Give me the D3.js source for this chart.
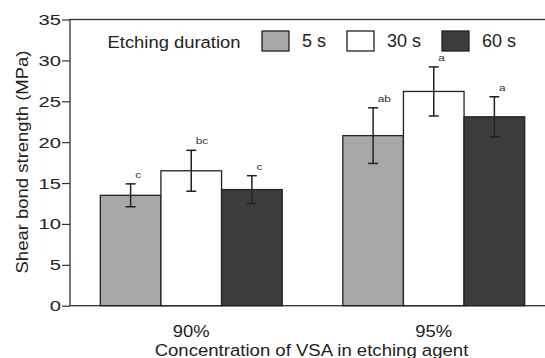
<!DOCTYPE html>
<html>
<head>
<meta charset="utf-8">
<script src="https://cdn.jsdelivr.net/npm/d3@7"></script>
<style>
  body { margin: 0; background: #fff; }
  svg { font-family: "Liberation Sans", Arial, Helvetica, sans-serif; }
</style>
</head>
<body>
<div class="container"></div>
<script>
// shear bond strength by VSA concentration and etching time

var groups = ['90%', '95%']
var durations = ['5 s', '30 s', '60 s']
var barColors = ['#a7a7a7', '#ffffff', '#3d3d3d']

// mean values, one row per group, one column per duration
var means = [
  [13.5, 16.5, 14.2],
  [20.8, 26.2, 23.1]
]
var errors = [
  [1.4, 2.5, 1.7],
  [3.4, 3.0, 2.45]
]
var letters = [
  ['c', 'bc', 'c'],
  ['ab', 'a', 'a']
]
var yTicks = [0, 5, 10, 15, 20, 25, 30, 35]

var opts = {
  width: 545,
  height: 358,
  left: 70,
  right: 555,
  top: 19.5,
  bottom: 305.7
}

// the original figure is a bit wide, so widen the horizontal texts
var stretch = function (sel, sx) {
  sel.each(function () {
    var w = this.getComputedTextLength()
    d3.select(this).attr('textLength', w * sx).attr('lengthAdjust', 'spacingAndGlyphs')
  })
}

var svg = d3.select('.container').append('svg')
  .attr('width', opts.width)
  .attr('height', opts.height)

var x0 = d3.scaleBand()
  .domain(groups)
  .range([opts.left, opts.right])
  .paddingInner(0.25)
  .paddingOuter(0.125)

var x1 = d3.scaleBand()
  .domain(durations)
  .range([0, x0.bandwidth()])

var y = d3.scaleLinear()
  .domain([0, 35])
  .range([opts.bottom, opts.top])

// frame
svg.append('rect')
  .attr('x', opts.left)
  .attr('y', opts.top)
  .attr('width', opts.right - opts.left)
  .attr('height', opts.bottom - opts.top)
  .attr('fill', 'none')
  .attr('stroke', '#333')
  .attr('stroke-width', 1.3)

// bars
var rows = []
groups.forEach(function (g, i) {
  durations.forEach(function (d, j) {
    rows.push({group: g, dur: d, j: j, v: means[i][j], e: errors[i][j], letter: letters[i][j]})
  })
})

var bar = svg.append('g').selectAll('g').data(rows).enter().append('g')

bar.append('rect')
  .attr('x', function (d) { return x0(d.group) + x1(d.dur) })
  .attr('y', function (d) { return y(d.v) })
  .attr('width', x1.bandwidth())
  .attr('height', function (d) { return y(0) - y(d.v) })
  .attr('fill', function (d) { return barColors[d.j] })
  .attr('stroke', '#222')
  .attr('stroke-width', 1.3)

var cx = function (d) { return x0(d.group) + x1(d.dur) + x1.bandwidth() / 2 }

bar.append('line')
  .attr('x1', cx).attr('x2', cx)
  .attr('y1', function (d) { return y(d.v + d.e) })
  .attr('y2', function (d) { return y(d.v - d.e) })
  .attr('stroke', '#222').attr('stroke-width', 1.5)

bar.selectAll('.cap')
  .data(function (d) { return [d.v + d.e, d.v - d.e].map(function (t) { return {d: d, t: t} }) })
  .enter().append('line')
  .attr('x1', function (c) { return cx(c.d) - 5 })
  .attr('x2', function (c) { return cx(c.d) + 5 })
  .attr('y1', function (c) { return y(c.t) })
  .attr('y2', function (c) { return y(c.t) })
  .attr('stroke', '#222').attr('stroke-width', 1.5)

bar.append('text')
  .attr('class', 'letter')
  .attr('x', function (d) { return cx(d) + 4.5 })
  .attr('y', function (d) { return y(d.v + d.e) - 6 })
  .attr('font-size', 9.5)
  .attr('fill', '#333')
  .text(function (d) { return d.letter })
stretch(svg.selectAll('.letter'), 1.25)

// y axis
var yAxis = d3.axisLeft(y).tickValues(yTicks).tickSize(8).tickPadding(1)
var ya = svg.append('g').attr('transform', 'translate(' + opts.left + ',0)').call(yAxis)
ya.select('.domain').remove()
ya.selectAll('line').attr('stroke', '#333').attr('stroke-width', 1.2)
ya.selectAll('text').attr('font-size', 15.5).attr('fill', '#222')
  .attr('font-family', '"Liberation Sans", Arial, sans-serif')
stretch(ya.selectAll('text'), 1.3)

// x axis labels
var xa = svg.append('g').attr('transform', 'translate(0,' + opts.bottom + ')')
  .call(d3.axisBottom(x0).tickSize(0).tickPadding(0))
xa.select('.domain').remove()
xa.selectAll('text').attr('font-size', 16.3).attr('fill', '#222')
  .attr('font-family', '"Liberation Sans", Arial, sans-serif')
  .attr('y', 31).attr('dy', null)
stretch(xa.selectAll('text'), 1.13)

var xTitle = svg.append('text')
  .attr('x', 311.5).attr('y', 356)
  .attr('text-anchor', 'middle')
  .attr('font-size', 16.3).attr('fill', '#222')
  .text('Concentration of VSA in etching agent')
stretch(xTitle, 1.14)

svg.append('text')
  .attr('transform', 'translate(28,162) rotate(-90)')
  .attr('text-anchor', 'middle')
  .attr('font-size', 17).attr('fill', '#222')
  .attr('textLength', 223).attr('lengthAdjust', 'spacingAndGlyphs')
  .text('Shear bond strength (MPa)')

// legend
var legend = svg.append('g')
var legTitle = legend.append('text')
  .attr('x', 107.5).attr('y', 48)
  .attr('font-size', 16.3).attr('fill', '#222')
  .text('Etching duration')
stretch(legTitle, 1.13)

var legX = [262, 347, 442]
var item = legend.selectAll('.item').data(durations).enter().append('g')
  .attr('transform', function (d, i) { return 'translate(' + legX[i] + ',31)' })
item.append('rect')
  .attr('width', 27).attr('height', 20)
  .attr('fill', function (d, i) { return barColors[i] })
  .attr('stroke', '#222').attr('stroke-width', 1.3)
item.append('text')
  .attr('x', 40).attr('y', 15.5)
  .attr('font-size', 18).attr('fill', '#222')
  .text(function (d) { return d })
</script>
</body>
</html>
